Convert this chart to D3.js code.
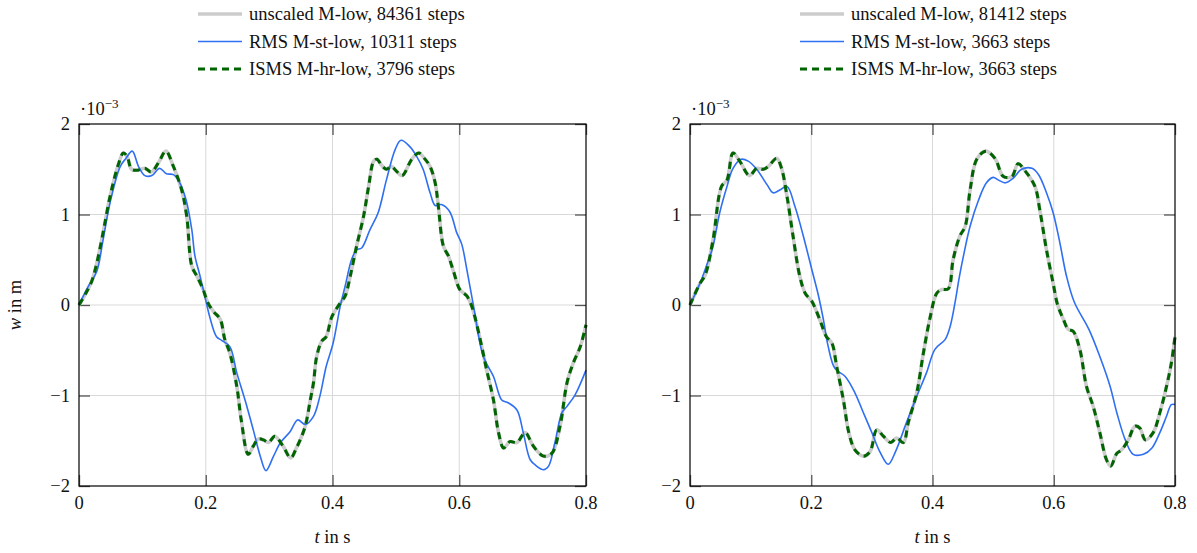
<!DOCTYPE html>
<html>
<head>
<meta charset="utf-8">
<script src="https://cdn.jsdelivr.net/npm/d3@7"></script>
<style>
  body { margin: 0; background: #fff; }
  svg text { font-family: "Liberation Serif", "DejaVu Serif", serif; fill: #111; }
</style>
</head>
<body>
<svg id="chart" width="1197" height="553"></svg>
<script>
// tick values shared by both panels
const tTicks = [0, 0.2, 0.4, 0.6, 0.8]
const wTicks = [-2, -1, 0, 1, 2]

// legend labels per panel
const leftLabels = ['unscaled M-low, 84361 steps', 'RMS M-st-low, 10311 steps', 'ISMS M-hr-low, 3796 steps']
const rightLabels = ['unscaled M-low, 81412 steps', 'RMS M-st-low, 3663 steps', 'ISMS M-hr-low, 3663 steps']

// [t in s, w in 1e-3 m]
// left panel: unscaled and ISMS lie on top of each other
const leftUnscaled = [
  [0, 0], [0.010, 0.12], [0.020, 0.26], [0.028, 0.46], [0.038, 0.80], [0.049, 1.2], [0.062, 1.55], [0.070, 1.68],
  [0.076, 1.64], [0.083, 1.50], [0.093, 1.49], [0.104, 1.51], [0.114, 1.47], [0.126, 1.58], [0.137, 1.70],
  [0.149, 1.53], [0.162, 1.27], [0.170, 0.98], [0.178, 0.43], [0.186, 0.32], [0.196, 0.17], [0.203, 0.03],
  [0.212, -0.07], [0.223, -0.16], [0.230, -0.38], [0.238, -0.53], [0.249, -0.90], [0.256, -1.27], [0.267, -1.65],
  [0.275, -1.56], [0.283, -1.48], [0.291, -1.49], [0.299, -1.52], [0.309, -1.45], [0.322, -1.56], [0.334, -1.69],
  [0.343, -1.58], [0.349, -1.49], [0.357, -1.34], [0.365, -1.05], [0.370, -0.86], [0.375, -0.57], [0.383, -0.40],
  [0.390, -0.35], [0.399, -0.13], [0.412, 0.02], [0.420, 0.10], [0.428, 0.32], [0.438, 0.65], [0.449, 0.98],
  [0.457, 1.31], [0.465, 1.59], [0.470, 1.61], [0.478, 1.54], [0.485, 1.50], [0.493, 1.53], [0.502, 1.47],
  [0.510, 1.43], [0.525, 1.61], [0.536, 1.68], [0.545, 1.62], [0.554, 1.53], [0.562, 1.35], [0.567, 1.09],
  [0.575, 0.65], [0.583, 0.54], [0.591, 0.37], [0.601, 0.17], [0.612, 0.10], [0.620, -0.02], [0.633, -0.38],
  [0.643, -0.71], [0.654, -1.05], [0.662, -1.41], [0.670, -1.58], [0.680, -1.51], [0.691, -1.52], [0.704, -1.41],
  [0.717, -1.56], [0.733, -1.67], [0.746, -1.64], [0.759, -1.34], [0.770, -0.86], [0.780, -0.64], [0.791, -0.46],
  [0.800, -0.22]
]
const leftIsms = leftUnscaled
const leftRms = [
  [0, 0], [0.015, 0.21], [0.028, 0.37], [0.038, 0.72], [0.049, 1.13], [0.065, 1.53], [0.074, 1.62], [0.084, 1.70],
  [0.094, 1.53], [0.104, 1.43], [0.115, 1.43], [0.127, 1.51], [0.138, 1.45], [0.149, 1.44], [0.159, 1.35],
  [0.169, 1.16], [0.178, 0.83], [0.183, 0.54], [0.191, 0.32], [0.201, 0.02], [0.207, -0.15], [0.217, -0.35],
  [0.225, -0.39], [0.238, -0.46], [0.249, -0.75], [0.262, -1.05], [0.275, -1.38], [0.286, -1.67], [0.295, -1.83],
  [0.307, -1.67], [0.318, -1.52], [0.333, -1.40], [0.345, -1.27], [0.357, -1.32], [0.370, -1.23], [0.380, -1.01],
  [0.390, -0.68], [0.401, -0.42], [0.412, -0.02], [0.420, 0.21], [0.430, 0.50], [0.438, 0.61], [0.446, 0.63],
  [0.459, 0.83], [0.472, 1.02], [0.485, 1.38], [0.499, 1.72], [0.508, 1.82], [0.522, 1.75], [0.533, 1.64],
  [0.543, 1.50], [0.554, 1.24], [0.562, 1.10], [0.572, 1.11], [0.585, 1.03], [0.596, 0.80], [0.604, 0.67],
  [0.612, 0.39], [0.623, -0.03], [0.638, -0.57], [0.654, -0.79], [0.667, -1.05], [0.677, -1.08], [0.691, -1.16],
  [0.701, -1.41], [0.712, -1.71], [0.722, -1.78], [0.733, -1.82], [0.741, -1.78], [0.751, -1.52], [0.762, -1.19],
  [0.770, -1.12], [0.783, -0.99], [0.800, -0.72]
]

// right panel
const rightUnscaled = [
  [0, 0], [0.0165, 0.24], [0.025, 0.33], [0.038, 0.72], [0.052, 1.31], [0.061, 1.38], [0.071, 1.68], [0.082, 1.59],
  [0.098, 1.43], [0.110, 1.51], [0.121, 1.50], [0.129, 1.53], [0.143, 1.62], [0.151, 1.51], [0.160, 1.20],
  [0.170, 0.76], [0.181, 0.32], [0.190, 0.13], [0.201, 0.04], [0.214, -0.16], [0.225, -0.35], [0.234, -0.42],
  [0.242, -0.68], [0.253, -1.05], [0.262, -1.41], [0.272, -1.60], [0.286, -1.67], [0.297, -1.62], [0.308, -1.38],
  [0.319, -1.45], [0.331, -1.52], [0.341, -1.47], [0.352, -1.52], [0.360, -1.30], [0.374, -0.97], [0.385, -0.53],
  [0.396, -0.14], [0.407, 0.13], [0.415, 0.17], [0.426, 0.18], [0.434, 0.50], [0.445, 0.76], [0.454, 0.87],
  [0.462, 1.27], [0.473, 1.61], [0.488, 1.70], [0.503, 1.62], [0.517, 1.42], [0.531, 1.42], [0.541, 1.56],
  [0.553, 1.48], [0.569, 1.31], [0.577, 1.05], [0.588, 0.61], [0.599, 0.24], [0.606, 0.01], [0.616, -0.16],
  [0.624, -0.27], [0.632, -0.29], [0.643, -0.49], [0.654, -0.90], [0.665, -1.12], [0.676, -1.41], [0.687, -1.71],
  [0.694, -1.78], [0.704, -1.64], [0.712, -1.60], [0.723, -1.49], [0.734, -1.34], [0.742, -1.36], [0.751, -1.49],
  [0.764, -1.41], [0.775, -1.19], [0.786, -0.90], [0.794, -0.64], [0.800, -0.35]
]
const rightIsms = rightUnscaled
const rightRms = [
  [0, 0], [0.0165, 0.24], [0.027, 0.43], [0.038, 0.65], [0.049, 1.02], [0.061, 1.31], [0.071, 1.51], [0.084, 1.61],
  [0.096, 1.59], [0.110, 1.50], [0.127, 1.33], [0.137, 1.24], [0.148, 1.27], [0.160, 1.31], [0.173, 1.09],
  [0.187, 0.76], [0.201, 0.39], [0.212, 0.10], [0.220, -0.16], [0.228, -0.46], [0.239, -0.70], [0.256, -0.79],
  [0.272, -0.97], [0.286, -1.19], [0.300, -1.41], [0.313, -1.62], [0.327, -1.76], [0.339, -1.62], [0.357, -1.30],
  [0.374, -1.01], [0.390, -0.75], [0.404, -0.49], [0.421, -0.38], [0.429, -0.24], [0.437, 0.02], [0.444, 0.30],
  [0.451, 0.54], [0.462, 0.87], [0.476, 1.16], [0.489, 1.35], [0.500, 1.41], [0.509, 1.38], [0.520, 1.35],
  [0.533, 1.40], [0.547, 1.50], [0.564, 1.51], [0.575, 1.44], [0.588, 1.24], [0.599, 1.02], [0.610, 0.69],
  [0.621, 0.32], [0.634, 0.03], [0.658, -0.27], [0.676, -0.57], [0.693, -0.90], [0.704, -1.19], [0.718, -1.49],
  [0.731, -1.65], [0.748, -1.65], [0.762, -1.58], [0.775, -1.41], [0.786, -1.23], [0.794, -1.10], [0.800, -1.10]
]

const svg = d3.select('#chart')
const plotTop = 124
const plotBottom = 486
const tickLen = 11
const fontSize = 18.5

const styles = [
  { color: '#cccccc', width: 3.6, dash: null },
  { color: '#2f6ff2', width: 1.6, dash: null },
  { color: '#006400', width: 3, dash: '7,5' }
]

/**
 * draw one panel with grid, frame, ticks, curves and legend
 */
const drawPanel = (left, right, series, labels, legendX, yTitle) => {
  const x = d3.scaleLinear().domain([0, 0.8]).range([left, right])
  const y = d3.scaleLinear().domain([-2, 2]).range([plotBottom, plotTop])
  const g = svg.append('g')

  // grid
  g.selectAll('.gx').data(tTicks.slice(1, -1)).join('line')
    .attr('x1', d => x(d)).attr('x2', d => x(d)).attr('y1', plotTop).attr('y2', plotBottom)
    .attr('stroke', '#d9d9d9').attr('stroke-width', 1)
  g.selectAll('.gy').data(wTicks.slice(1, -1)).join('line')
    .attr('x1', left).attr('x2', right).attr('y1', d => y(d)).attr('y2', d => y(d))
    .attr('stroke', '#d9d9d9').attr('stroke-width', 1)

  // inward ticks on all four sides
  const axes = [
    d3.axisBottom(x).tickValues(tTicks).tickSize(tickLen).tickFormat(''),
    d3.axisTop(x).tickValues(tTicks).tickSize(tickLen).tickFormat(''),
    d3.axisLeft(y).tickValues(wTicks).tickSize(tickLen).tickFormat(''),
    d3.axisRight(y).tickValues(wTicks).tickSize(tickLen).tickFormat('')
  ]
  const shifts = [[0, plotBottom - tickLen], [0, plotTop + tickLen], [left + tickLen, 0], [right - tickLen, 0]]
  axes.forEach((ax, i) => {
    const a = g.append('g').attr('transform', `translate(${shifts[i][0]},${shifts[i][1]})`).call(ax)
    a.select('.domain').remove()
    a.selectAll('line').attr('stroke', '#555').attr('stroke-width', 1.3)
  })

  // curves
  const line = d3.line().x(d => x(d[0])).y(d => y(d[1])).curve(d3.curveCatmullRom.alpha(0.5))
  series.forEach((s, i) => {
    g.append('path').datum(s).attr('d', line).attr('fill', 'none')
      .attr('stroke', styles[i].color).attr('stroke-width', styles[i].width)
      .attr('stroke-dasharray', styles[i].dash).attr('stroke-linejoin', 'round')
  })

  // frame
  g.append('rect').attr('x', left).attr('y', plotTop).attr('width', right - left).attr('height', plotBottom - plotTop)
    .attr('fill', 'none').attr('stroke', '#000').attr('stroke-width', 1.2)

  // tick labels
  g.selectAll('.tx').data(tTicks).join('text')
    .attr('x', d => x(d)).attr('y', plotBottom + 23).attr('text-anchor', 'middle')
    .attr('font-size', fontSize).text(d => d3.format('')(d))
  g.selectAll('.ty').data(wTicks).join('text')
    .attr('x', left - 9).attr('y', d => y(d) + 6).attr('text-anchor', 'end')
    .attr('font-size', fontSize).text(d => d < 0 ? '\u2212' + Math.abs(d) : d)

  // exponent note
  const ex = g.append('text').attr('x', left + 1).attr('y', 115).attr('font-size', fontSize)
  ex.append('tspan').text('\u00b710')
  ex.append('tspan').attr('dy', -7).attr('font-size', 13).text('\u22123')

  // axis titles
  const xt = g.append('text').attr('x', (left + right) / 2).attr('y', 543).attr('text-anchor', 'middle').attr('font-size', fontSize)
  xt.append('tspan').attr('font-style', 'italic').text('t')
  xt.append('tspan').text(' in s')
  if (yTitle) {
    const yt = g.append('text').attr('transform', `translate(21,${(plotTop + plotBottom) / 2}) rotate(-90)`)
      .attr('text-anchor', 'middle').attr('font-size', fontSize)
    yt.append('tspan').attr('font-style', 'italic').text('w')
    yt.append('tspan').text(' in m')
  }

  // legend
  labels.forEach((lab, i) => {
    const ly = 14 + i * 27.5
    g.append('line').attr('x1', legendX).attr('x2', legendX + 44).attr('y1', ly).attr('y2', ly)
      .attr('stroke', styles[i].color).attr('stroke-width', styles[i].width)
      .attr('stroke-dasharray', styles[i].dash)
    g.append('text').attr('x', legendX + 51).attr('y', ly + 6).attr('font-size', fontSize).text(lab)
  })
}

drawPanel(79, 586, [leftUnscaled, leftRms, leftIsms], leftLabels, 198, true)
drawPanel(690, 1175, [rightUnscaled, rightRms, rightIsms], rightLabels, 800, false)
</script>
</body>
</html>
